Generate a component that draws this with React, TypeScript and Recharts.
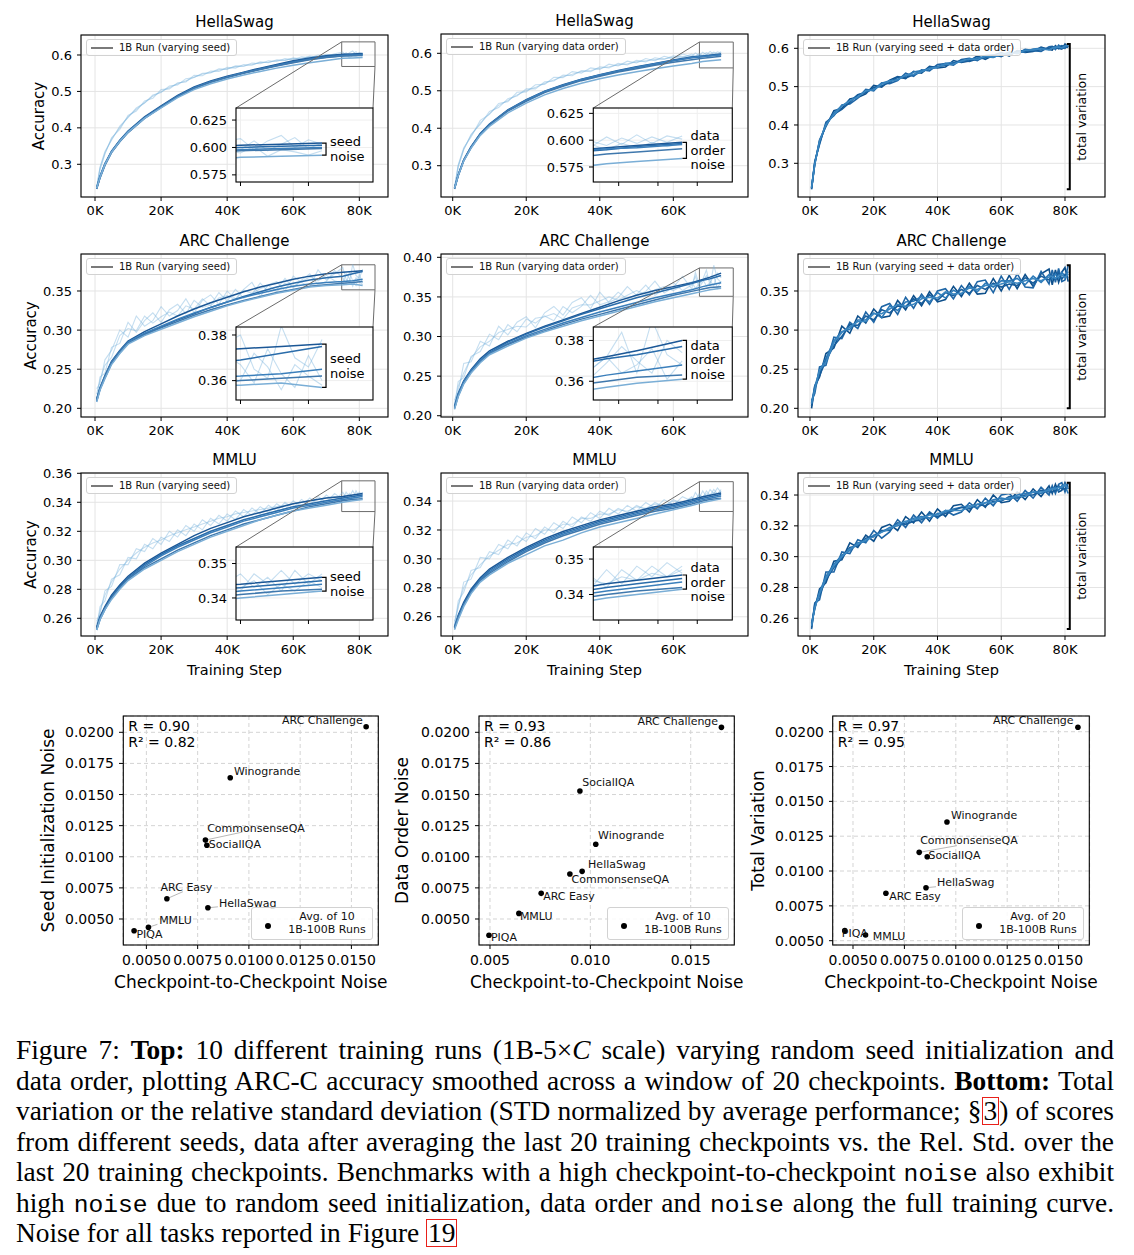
import React from "react";
import {
  LineChart,
  Line,
  XAxis,
  YAxis,
  CartesianGrid,
  ReferenceArea,
  ScatterChart,
  Scatter,
} from "recharts";

// training steps, in thousands
const RAW_STEPS_81 = [0.5, 1.5, 3, 5, 7.5, 10, 12.5, 15, 17.5, 20, 22.5, 25, 27.5, 30, 32.5, 35, 37.5, 40, 42.5, 45, 47.5, 50, 52.5, 55, 57.5, 60, 62.5, 65, 67.5, 70, 72.5, 75, 76, 77, 78, 79, 80, 81];
const SMOOTH_STEPS_81 = [0.5, 1.5, 3, 5, 7.5, 10, 15, 20, 25, 30, 35, 40, 45, 50, 55, 60, 65, 70, 75, 78, 81];
const RAW_STEPS_73 = [0.5, 1.5, 3, 5, 7.5, 10, 12.5, 15, 17.5, 20, 22.5, 25, 27.5, 30, 32.5, 35, 37.5, 40, 42.5, 45, 47.5, 50, 52.5, 55, 57.5, 60, 62.5, 65, 66, 67, 68, 69, 70, 71, 72, 73];
const SMOOTH_STEPS_73 = [0.5, 1.5, 3, 5, 7.5, 10, 15, 20, 25, 30, 35, 40, 45, 50, 55, 60, 65, 68, 70, 73];
const X_TICKS_81 = [0, 20, 40, 60, 80];
const X_TICKS_73 = [0, 20, 40, 60];

// HellaSwag
const HS_SEED_RAW = [
  [.236, .292, .335, .366, .405, .428, .455, .468, .49, .497, .515, .518, .535, .538, .55, .551, .562, .561, .57, .569, .578, .576, .584, .582, .59, .587, .595, .592, .6, .597, .603, .608, .598, .606, .611, .6, .607, .603],
  [.233, .285, .328, .373, .396, .434, .446, .474, .481, .505, .507, .524, .526, .544, .543, .556, .555, .566, .564, .574, .572, .581, .579, .587, .585, .592, .589, .597, .594, .602, .599, .598, .606, .597, .603, .609, .599, .604],
  [.237, .289, .331, .369, .401, .43, .451, .469, .487, .499, .511, .521, .529, .539, .548, .552, .559, .562, .568, .57, .574, .579, .58, .585, .586, .59, .591, .595, .596, .6, .6, .595, .601, .592, .598, .596, .593, .597],
];
const HS_SEED_SMOOTH = [
  [.235, .266, .301, .336, .366, .391, .43, .46, .489, .512, .529, .542, .553, .564, .574, .584, .592, .598, .602, .603, .604],
  [.233, .263, .298, .333, .363, .388, .427, .457, .486, .509, .526, .539, .551, .562, .572, .582, .59, .596, .6, .601, .602],
  [.236, .267, .302, .335, .365, .39, .428, .458, .487, .51, .527, .54, .551, .561, .571, .58, .588, .594, .598, .599, .6],
  [.232, .262, .297, .332, .362, .387, .426, .456, .485, .508, .525, .538, .55, .56, .57, .579, .587, .593, .597, .598, .599],
  [.234, .264, .299, .333, .363, .388, .426, .455, .483, .505, .521, .534, .545, .555, .564, .572, .579, .585, .591, .592, .593],
];
const HS_ORDER_RAW = [
  [.242, .302, .348, .377, .421, .437, .466, .471, .496, .497, .516, .517, .536, .535, .551, .547, .561, .557, .571, .566, .579, .574, .586, .58, .592, .586, .598, .591, .601, .594, .603, .596, .605, .597, .604, .601],
  [.238, .296, .343, .384, .41, .445, .455, .479, .486, .505, .505, .524, .526, .542, .54, .554, .551, .564, .561, .573, .569, .581, .577, .588, .584, .593, .589, .598, .592, .599, .595, .602, .597, .603, .598, .604],
  [.24, .3, .344, .381, .414, .439, .461, .474, .489, .501, .509, .52, .529, .538, .544, .551, .554, .56, .564, .569, .572, .577, .58, .583, .585, .589, .591, .593, .59, .596, .591, .597, .593, .598, .594, .597],
];
const HS_ORDER_SMOOTH = [
  [.241, .276, .316, .351, .386, .411, .449, .476, .499, .516, .531, .543, .554, .564, .573, .582, .59, .593, .595, .598],
  [.239, .274, .314, .349, .384, .409, .447, .474, .497, .514, .529, .541, .552, .562, .571, .58, .588, .591, .594, .597],
  [.24, .275, .315, .35, .385, .41, .448, .475, .498, .515, .53, .542, .553, .563, .572, .581, .589, .592, .593, .596],
  [.238, .273, .313, .348, .383, .408, .446, .472, .495, .512, .527, .539, .55, .559, .568, .576, .583, .587, .589, .592],
  [.24, .274, .313, .347, .381, .405, .441, .467, .489, .506, .52, .532, .542, .551, .559, .566, .573, .578, .58, .583],
];
const HS_TOTAL = [
  [.235, .297, .361, .396, .437, .443, .468, .472, .481, .503, .499, .517, .526, .521, .54, .535, .553, .549, .551, .568, .563, .567, .58, .571, .582, .589, .58, .594, .589, .592, .603, .597, .595, .607, .6, .598, .611, .603],
  [.232, .305, .349, .407, .424, .452, .455, .47, .493, .489, .51, .508, .516, .535, .527, .544, .541, .558, .56, .556, .571, .574, .568, .581, .583, .578, .59, .586, .597, .594, .592, .604, .605, .597, .608, .601, .6, .609],
  [.238, .3, .357, .398, .432, .45, .462, .478, .486, .494, .509, .515, .52, .527, .538, .542, .546, .55, .561, .563, .565, .57, .575, .578, .576, .585, .588, .589, .591, .598, .6, .598, .602, .6, .605, .607, .602, .606],
  [.234, .302, .353, .402, .428, .441, .459, .479, .484, .498, .502, .511, .525, .523, .531, .538, .55, .553, .555, .561, .569, .566, .572, .575, .581, .581, .584, .592, .594, .593, .596, .6, .603, .604, .599, .606, .605, .602],
  [.236, .298, .358, .401, .427, .449, .463, .473, .489, .492, .506, .514, .518, .53, .532, .539, .548, .551, .558, .559, .567, .572, .571, .579, .577, .584, .587, .587, .595, .596, .599, .596, .601, .603, .603, .601, .606, .607],
];

// ARC Challenge
const ARC_SEED_RAW = [
  [.225, .232, .262, .274, .3, .291, .318, .305, .312, .33, .318, .325, .34, .322, .338, .345, .333, .35, .34, .352, .361, .343, .358, .362, .35, .369, .361, .355, .377, .364, .372, .38, .365, .361, .384, .37, .366, .378],
  [.21, .24, .245, .278, .283, .31, .297, .312, .322, .31, .326, .333, .321, .338, .329, .332, .348, .337, .352, .341, .346, .36, .349, .352, .366, .354, .364, .372, .358, .362, .376, .367, .359, .374, .363, .357, .371, .36],
  [.218, .236, .255, .265, .293, .302, .299, .318, .309, .317, .323, .318, .331, .327, .34, .331, .341, .344, .339, .351, .347, .353, .357, .349, .36, .356, .362, .368, .363, .37, .363, .36, .372, .366, .356, .367, .362, .358],
];
const ARC_SEED_SMOOTH = [
  [.212, .226, .242, .26, .274, .286, .298, .308, .318, .327, .335, .342, .349, .355, .36, .365, .369, .372, .374, .375, .376],
  [.209, .224, .239, .257, .271, .283, .295, .304, .313, .321, .329, .336, .343, .349, .355, .36, .364, .367, .369, .372, .375],
  [.211, .226, .241, .259, .273, .285, .296, .305, .314, .322, .329, .336, .342, .347, .352, .356, .359, .361, .362, .363, .365],
  [.21, .225, .24, .258, .272, .283, .294, .303, .311, .319, .326, .332, .338, .343, .348, .352, .356, .358, .36, .361, .362],
  [.208, .223, .238, .256, .27, .282, .293, .301, .309, .317, .324, .331, .337, .342, .347, .351, .355, .357, .358, .359, .357],
];
const ARC_ORDER_RAW = [
  [.22, .23, .266, .268, .294, .288, .313, .302, .318, .325, .311, .33, .338, .327, .343, .349, .335, .356, .343, .349, .363, .352, .357, .37, .355, .362, .376, .36, .381, .366, .372, .384, .364, .39, .373, .368],
  [.212, .243, .248, .275, .281, .303, .296, .315, .306, .322, .317, .326, .32, .338, .33, .338, .352, .34, .344, .356, .347, .353, .365, .352, .36, .368, .358, .365, .376, .362, .369, .377, .37, .364, .38, .374],
  [.216, .237, .254, .273, .287, .294, .305, .309, .313, .312, .323, .325, .329, .322, .336, .34, .34, .345, .35, .346, .352, .358, .353, .359, .363, .358, .364, .369, .361, .366, .372, .364, .368, .376, .361, .37],
];
const ARC_ORDER_SMOOTH = [
  [.212, .228, .244, .258, .272, .282, .294, .304, .313, .321, .329, .337, .345, .352, .358, .363, .368, .372, .375, .38],
  [.21, .226, .242, .256, .27, .28, .293, .303, .312, .32, .328, .335, .342, .349, .355, .361, .367, .371, .373, .377],
  [.211, .227, .243, .257, .27, .279, .291, .301, .309, .317, .324, .331, .337, .343, .349, .354, .359, .363, .365, .368],
  [.209, .225, .241, .255, .268, .278, .29, .299, .307, .315, .322, .328, .334, .34, .346, .352, .357, .36, .362, .363],
  [.208, .224, .24, .254, .267, .277, .288, .298, .306, .313, .32, .326, .332, .338, .344, .349, .354, .357, .359, .361],
];
const ARC_TOTAL = [
  [.2, .229, .24, .27, .277, .305, .296, .318, .309, .327, .316, .318, .338, .326, .344, .331, .349, .336, .339, .356, .343, .36, .346, .347, .366, .35, .37, .353, .371, .356, .372, .378, .358, .377, .361, .374, .38, .362],
  [.21, .219, .253, .255, .291, .289, .31, .302, .323, .31, .33, .334, .32, .342, .328, .346, .333, .35, .353, .34, .357, .345, .362, .364, .348, .369, .352, .372, .355, .354, .375, .359, .377, .361, .379, .362, .364, .383],
  [.207, .228, .247, .264, .286, .298, .301, .313, .313, .322, .316, .331, .325, .336, .337, .343, .336, .348, .341, .351, .346, .356, .349, .36, .355, .363, .363, .366, .358, .369, .361, .371, .365, .372, .366, .374, .369, .375],
  [.203, .226, .242, .261, .28, .292, .307, .306, .318, .313, .326, .322, .331, .33, .34, .334, .345, .338, .348, .344, .352, .347, .357, .352, .36, .355, .359, .357, .367, .36, .369, .364, .37, .365, .373, .365, .371, .367],
  [.206, .224, .249, .259, .284, .297, .304, .311, .311, .321, .321, .327, .333, .33, .333, .34, .342, .341, .349, .346, .347, .354, .352, .357, .358, .359, .362, .36, .363, .366, .363, .368, .369, .366, .37, .371, .367, .372],
];

// MMLU
const MMLU_SEED_RAW = [
  [.258, .263, .279, .282, .297, .297, .308, .306, .315, .311, .32, .316, .324, .32, .328, .324, .331, .327, .334, .33, .336, .332, .338, .334, .34, .336, .342, .338, .344, .34, .346, .342, .347, .344, .348, .344, .347, .345],
  [.253, .268, .272, .287, .29, .302, .301, .311, .308, .316, .313, .321, .317, .325, .321, .329, .325, .332, .328, .335, .331, .337, .333, .339, .335, .341, .337, .343, .339, .345, .341, .347, .343, .346, .342, .348, .344, .347],
  [.256, .265, .276, .285, .294, .3, .305, .309, .312, .314, .317, .319, .321, .323, .325, .327, .329, .33, .332, .333, .334, .335, .336, .337, .338, .339, .34, .341, .342, .343, .344, .343, .345, .341, .344, .342, .345, .343],
];
const MMLU_SEED_SMOOTH = [
  [.254, .261, .268, .276, .283, .289, .298, .305, .311, .317, .322, .326, .33, .333, .336, .339, .341, .343, .344, .345, .346],
  [.253, .26, .267, .275, .282, .288, .297, .304, .31, .315, .32, .324, .328, .331, .334, .337, .339, .341, .343, .344, .345],
  [.252, .259, .266, .274, .281, .287, .296, .303, .309, .314, .319, .323, .327, .33, .333, .336, .338, .34, .342, .343, .344],
  [.253, .26, .267, .274, .281, .287, .295, .301, .307, .312, .317, .321, .325, .328, .331, .334, .337, .339, .341, .342, .3425],
  [.252, .259, .266, .273, .28, .286, .294, .3, .306, .311, .316, .32, .324, .328, .331, .334, .336, .338, .34, .341, .342],
];
const MMLU_ORDER_RAW = [
  [.257, .266, .284, .286, .301, .3, .31, .307, .316, .312, .321, .317, .325, .321, .329, .325, .332, .328, .335, .331, .337, .333, .339, .335, .341, .337, .343, .34, .346, .342, .347, .343, .348, .345, .349, .346],
  [.253, .271, .277, .292, .294, .305, .303, .313, .309, .318, .314, .322, .318, .326, .322, .329, .326, .333, .33, .335, .332, .337, .334, .339, .336, .341, .338, .343, .34, .345, .342, .347, .344, .348, .345, .347],
  [.255, .268, .28, .289, .296, .302, .306, .31, .311, .315, .316, .32, .32, .324, .324, .328, .328, .331, .331, .334, .333, .336, .335, .338, .337, .34, .339, .342, .341, .344, .343, .345, .344, .346, .345, .348],
];
const MMLU_ORDER_SMOOTH = [
  [.253, .261, .27, .279, .287, .293, .301, .308, .314, .319, .323, .327, .33, .333, .336, .338, .341, .343, .344, .3455],
  [.252, .26, .269, .278, .286, .292, .3, .307, .313, .318, .322, .326, .329, .332, .335, .337, .34, .342, .343, .3445],
  [.253, .26, .268, .277, .285, .291, .299, .306, .312, .317, .321, .325, .328, .331, .334, .336, .339, .341, .342, .3435],
  [.252, .259, .268, .277, .285, .29, .298, .305, .311, .316, .32, .324, .327, .33, .333, .335, .338, .34, .341, .342],
  [.251, .258, .267, .276, .284, .289, .297, .303, .309, .313, .318, .322, .325, .328, .331, .334, .337, .339, .34, .3415],
];
const MMLU_TOTAL = [
  [.257, .266, .279, .283, .297, .298, .309, .306, .314, .31, .319, .321, .317, .326, .322, .329, .323, .331, .326, .333, .334, .329, .337, .332, .34, .335, .336, .342, .337, .344, .339, .346, .341, .347, .342, .343, .348, .344],
  [.253, .27, .272, .29, .29, .303, .302, .311, .309, .317, .312, .316, .324, .319, .327, .322, .329, .325, .33, .327, .329, .335, .331, .338, .333, .34, .341, .336, .343, .338, .345, .34, .346, .341, .347, .348, .342, .348],
  [.256, .267, .277, .287, .295, .301, .304, .309, .31, .314, .316, .319, .32, .322, .325, .326, .325, .328, .329, .331, .332, .333, .332, .335, .337, .338, .337, .34, .341, .342, .341, .344, .344, .345, .343, .346, .346, .341],
  [.254, .269, .275, .285, .293, .299, .306, .307, .312, .313, .317, .317, .322, .321, .323, .324, .328, .326, .328, .33, .332, .331, .334, .333, .336, .336, .339, .338, .34, .34, .343, .342, .342, .343, .346, .344, .344, .346],
  [.255, .267, .276, .286, .294, .3, .305, .308, .311, .313, .316, .318, .321, .323, .324, .325, .327, .327, .33, .33, .33, .332, .334, .335, .335, .337, .338, .339, .339, .342, .342, .343, .344, .344, .345, .345, .347, .344],
];

// bottom row: noise per benchmark
const BENCHMARKS = ["ARC Challenge", "Winogrande", "CommonsenseQA", "SocialIQA", "ARC Easy", "HellaSwag", "MMLU", "PIQA"];
const SEED_C2C = [0.01572, 0.00909, 0.00788, 0.00795, 0.006, 0.008, 0.0051, 0.0044];
const SEED_NOISE = [0.02045, 0.01635, 0.01134, 0.01092, 0.00663, 0.0059, 0.00433, 0.00406];
const ORDER_C2C = [0.01653, 0.01027, 0.00898, 0.00948, 0.00755, 0.00959, 0.00644, 0.00495];
const ORDER_NOISE = [0.0204, 0.011, 0.00861, 0.01528, 0.00706, 0.00883, 0.00545, 0.00369];
const TOTAL_C2C = [0.01594, 0.00957, 0.00822, 0.00861, 0.0066, 0.00855, 0.00561, 0.0046];
const TOTAL_VAR = [0.02032, 0.01352, 0.01134, 0.01103, 0.0084, 0.0088, 0.00541, 0.00572];

// label placement (px offset from point): dx, dy, anchor, leader-line end
type Lab = [number, number, string, number?, number?];
const SEED_LABELS: Lab[] = [[-3.3, -6, "end"], [3.7, -6.7, "start"], [1.7, -12, "start", 37, -8], [2, -1.3, "start"], [-6.3, -11.7, "start", 16, -7], [11, -4.3, "start", 10, -1], [10.7, -6.7, "start", 9, -3], [2.3, 4.3, "start"]];
const ORDER_LABELS: Lab[] = [[-3.3, -6.3, "end"], [2.3, -8.7, "start"], [1.7, 5.3, "start"], [2.3, -8.3, "start"], [2, 2.7, "start"], [6, -7.3, "start"], [1, 3, "start"], [2, 2.3, "start"]];
const TOTAL_LABELS: Lab[] = [[-4.3, -6.7, "end"], [4, -6.7, "start"], [1, -12.3, "start", 37.7, -6.7], [1.3, -0.7, "start"], [3.3, 3.3, "start"], [11, -5.3, "start", 10, -1], [7.3, 1.7, "start"], [-3, 2.7, "start"]];

const FONT = '"DejaVu Sans", Verdana, sans-serif';
const PAD = 12;
const SMOOTH_COLORS = ["#1b5796", "#2a6caa", "#3b7fbb", "#3f78ad", "#7aaed6"];
const TOTAL_COLORS = ["#0d4f8b", "#1f66a6", "#2d7ab8", "#175d9c", "#3a86c0"];

type Box = { x: number; y: number; w: number; h: number };
type Runs = { steps: number[]; runs: number[][] };
type Inset = { box: Box; xd: number[]; yd: number[]; xTicks: number[]; yTicks: number[]; yDigits: number; note: string[] };
type Panel = {
  title: string; legend: string; box: Box; xd: number[]; yd: number[]; xTicks: number[]; yTicks: number[]; yDigits: number;
  raw?: Runs; smooth?: Runs; total?: Runs; inset?: Inset; yLabelX?: number; xLabel?: boolean;
};

const C2_INSET_X = [68.8, 71.4, 74];
const PANELS: Panel[] = [
  { title: "HellaSwag", legend: "1B Run (varying seed)", box: { x: 81, y: 35, w: 307, h: 162 }, xd: [-4.24, 88.68], yd: [0.2102, 0.6549], xTicks: X_TICKS_81, yTicks: [0.3, 0.4, 0.5, 0.6], yDigits: 1,
    raw: { steps: RAW_STEPS_81, runs: HS_SEED_RAW }, smooth: { steps: SMOOTH_STEPS_81, runs: HS_SEED_SMOOTH }, yLabelX: 39,
    inset: { box: { x: 236, y: 108, w: 137, h: 74 }, xd: [74.67, 84.75], yd: [0.5685, 0.636], xTicks: [75, 80], yTicks: [0.575, 0.6, 0.625], yDigits: 3, note: ["seed", "noise"] } },
  { title: "HellaSwag", legend: "1B Run (varying data order)", box: { x: 441, y: 34, w: 307, h: 163 }, xd: [-3.18, 80.31], yd: [0.2165, 0.6515], xTicks: X_TICKS_73, yTicks: [0.3, 0.4, 0.5, 0.6], yDigits: 1,
    raw: { steps: RAW_STEPS_73, runs: HS_ORDER_RAW }, smooth: { steps: SMOOTH_STEPS_73, runs: HS_ORDER_SMOOTH },
    inset: { box: { x: 593.3, y: 108, w: 139, h: 74 }, xd: [67.1, 76.3], yd: [0.561, 0.63], xTicks: C2_INSET_X, yTicks: [0.575, 0.6, 0.625], yDigits: 3, note: ["data", "order", "noise"] } },
  { title: "HellaSwag", legend: "1B Run (varying seed + data order)", box: { x: 798, y: 35, w: 307, h: 162 }, xd: [-3.76, 92.55], yd: [0.2121, 0.6347], xTicks: X_TICKS_81, yTicks: [0.3, 0.4, 0.5, 0.6], yDigits: 1,
    total: { steps: RAW_STEPS_81, runs: HS_TOTAL } },
  { title: "ARC Challenge", legend: "1B Run (varying seed)", box: { x: 81, y: 254, w: 307, h: 163 }, xd: [-4.24, 88.68], yd: [0.1889, 0.3973], xTicks: X_TICKS_81, yTicks: [0.2, 0.25, 0.3, 0.35], yDigits: 2,
    raw: { steps: RAW_STEPS_81, runs: ARC_SEED_RAW }, smooth: { steps: SMOOTH_STEPS_81, runs: ARC_SEED_SMOOTH }, yLabelX: 31,
    inset: { box: { x: 236, y: 327, w: 137, h: 73 }, xd: [74.67, 84.75], yd: [0.3515, 0.3835], xTicks: [75, 80], yTicks: [0.36, 0.38], yDigits: 2, note: ["seed", "noise"] } },
  { title: "ARC Challenge", legend: "1B Run (varying data order)", box: { x: 441, y: 254, w: 307, h: 163 }, xd: [-3.18, 80.31], yd: [0.1984, 0.4042], xTicks: X_TICKS_73, yTicks: [0.2, 0.25, 0.3, 0.35, 0.4], yDigits: 2,
    raw: { steps: RAW_STEPS_73, runs: ARC_ORDER_RAW }, smooth: { steps: SMOOTH_STEPS_73, runs: ARC_ORDER_SMOOTH },
    inset: { box: { x: 593.3, y: 327, w: 139, h: 73 }, xd: [67.1, 76.3], yd: [0.3508, 0.3866], xTicks: C2_INSET_X, yTicks: [0.36, 0.38], yDigits: 2, note: ["data", "order", "noise"] } },
  { title: "ARC Challenge", legend: "1B Run (varying seed + data order)", box: { x: 798, y: 254, w: 307, h: 163 }, xd: [-3.76, 92.55], yd: [0.1889, 0.3973], xTicks: X_TICKS_81, yTicks: [0.2, 0.25, 0.3, 0.35], yDigits: 2,
    total: { steps: RAW_STEPS_81, runs: ARC_TOTAL } },
  { title: "MMLU", legend: "1B Run (varying seed)", box: { x: 81, y: 473, w: 307, h: 163 }, xd: [-4.24, 88.68], yd: [0.2478, 0.3602], xTicks: X_TICKS_81, yTicks: [0.26, 0.28, 0.3, 0.32, 0.34, 0.36], yDigits: 2,
    raw: { steps: RAW_STEPS_81, runs: MMLU_SEED_RAW }, smooth: { steps: SMOOTH_STEPS_81, runs: MMLU_SEED_SMOOTH }, yLabelX: 31, xLabel: true,
    inset: { box: { x: 236, y: 547, w: 137, h: 73 }, xd: [74.67, 84.75], yd: [0.3336, 0.3548], xTicks: [75, 80], yTicks: [0.34, 0.35], yDigits: 2, note: ["seed", "noise"] } },
  { title: "MMLU", legend: "1B Run (varying data order)", box: { x: 441, y: 473, w: 307, h: 163 }, xd: [-3.18, 80.31], yd: [0.2467, 0.3594], xTicks: X_TICKS_73, yTicks: [0.26, 0.28, 0.3, 0.32, 0.34], yDigits: 2,
    raw: { steps: RAW_STEPS_73, runs: MMLU_ORDER_RAW }, smooth: { steps: SMOOTH_STEPS_73, runs: MMLU_ORDER_SMOOTH }, xLabel: true,
    inset: { box: { x: 593.3, y: 547, w: 139, h: 73 }, xd: [67.1, 76.3], yd: [0.3328, 0.3534], xTicks: C2_INSET_X, yTicks: [0.34, 0.35], yDigits: 2, note: ["data", "order", "noise"] } },
  { title: "MMLU", legend: "1B Run (varying seed + data order)", box: { x: 798, y: 473, w: 307, h: 163 }, xd: [-3.76, 92.55], yd: [0.2485, 0.3543], xTicks: X_TICKS_81, yTicks: [0.26, 0.28, 0.3, 0.32, 0.34], yDigits: 2,
    total: { steps: RAW_STEPS_81, runs: MMLU_TOTAL }, xLabel: true },
];

type SPanel = {
  box: Box; xd: number[]; yd: number[]; xTicks: number[]; yTicks: number[]; xDigits: number;
  xs: number[]; ys: number[]; labels: Lab[]; yLabel: string; yLabelX: number; r: string; r2: string; runs: string;
};
const SCATTERS: SPanel[] = [
  { box: { x: 123.3, y: 716, w: 255, h: 229 }, xd: [0.003859, 0.016298], yd: [0.002911, 0.02131], xTicks: [0.005, 0.0075, 0.01, 0.0125, 0.015], yTicks: [0.005, 0.0075, 0.01, 0.0125, 0.015, 0.0175, 0.02], xDigits: 4,
    xs: SEED_C2C, ys: SEED_NOISE, labels: SEED_LABELS, yLabel: "Seed Initialization Noise", yLabelX: 47.5, r: "R = 0.90", r2: "R² = 0.82", runs: "Avg. of 10" },
  { box: { x: 479, y: 716, w: 255.3, h: 229 }, xd: [0.004452, 0.017172], yd: [0.002911, 0.02131], xTicks: [0.005, 0.01, 0.015], yTicks: [0.005, 0.0075, 0.01, 0.0125, 0.015, 0.0175, 0.02], xDigits: 3,
    xs: ORDER_C2C, ys: ORDER_NOISE, labels: ORDER_LABELS, yLabel: "Data Order Noise", yLabelX: 401.5, r: "R = 0.93", r2: "R² = 0.86", runs: "Avg. of 10" },
  { box: { x: 832.7, y: 716, w: 256.6, h: 229 }, xd: [0.004027, 0.016508], yd: [0.004691, 0.021127], xTicks: [0.005, 0.0075, 0.01, 0.0125, 0.015], yTicks: [0.005, 0.0075, 0.01, 0.0125, 0.015, 0.0175, 0.02], xDigits: 4,
    xs: TOTAL_C2C, ys: TOTAL_VAR, labels: TOTAL_LABELS, yLabel: "Total Variation", yLabelX: 758, r: "R = 0.97", r2: "R² = 0.95", runs: "Avg. of 20" },
];

const rows = (steps: number[], vals: number[]) =>
  steps.map((x, i) => ({ x, y: vals[i] })).filter((d) => d.y !== undefined);

const mx = (b: Box, d: number[], v: number) => b.x + ((v - d[0]) / (d[1] - d[0])) * b.w;
const my = (b: Box, d: number[], v: number) => b.y + ((d[1] - v) / (d[1] - d[0])) * b.h;

function runLines(p: Panel) {
  const out: React.ReactNode[] = [];
  if (p.raw)
    p.raw.runs.forEach((r, i) =>
      out.push(<Line key={"r" + i} data={rows(p.raw!.steps, r)} dataKey="y" type="linear" dot={false} stroke="#7fb6dd" strokeOpacity={0.45} strokeWidth={1.1} isAnimationActive={false} />)
    );
  if (p.smooth)
    p.smooth.runs.forEach((r, i) =>
      out.push(<Line key={"s" + i} data={rows(p.smooth!.steps, r)} dataKey="y" type="linear" dot={false} stroke={SMOOTH_COLORS[i]} strokeWidth={1.5} isAnimationActive={false} />)
    );
  if (p.total)
    p.total.runs.forEach((r, i) =>
      out.push(<Line key={"t" + i} data={rows(p.total!.steps, r)} dataKey="y" type="linear" dot={false} stroke={TOTAL_COLORS[i]} strokeWidth={1.6} isAnimationActive={false} />)
    );
  return out;
}

const tickStyle = { fill: "#000", fontSize: 13 };

function MainChart({ p }: { p: Panel }) {
  const YW = 46, XH = 24;
  return (
    <div style={{ position: "absolute", left: p.box.x - YW, top: p.box.y - PAD }}>
      <LineChart width={YW + p.box.w + PAD} height={PAD + p.box.h + XH} margin={{ top: PAD, right: PAD, bottom: 0, left: 0 }}>
        <CartesianGrid stroke="#e4e4e4" />
        <XAxis type="number" dataKey="x" domain={p.xd} ticks={p.xTicks} allowDataOverflow interval={0} height={XH} axisLine={false} tickLine={{ stroke: "#000" }} tickSize={4} tickMargin={5} tick={tickStyle} tickFormatter={(v: number) => `${v}K`} />
        <YAxis type="number" domain={p.yd} ticks={p.yTicks} allowDataOverflow interval={0} width={YW} axisLine={false} tickLine={{ stroke: "#000" }} tickSize={4} tickMargin={5} tick={tickStyle} tickFormatter={(v: number) => v.toFixed(p.yDigits)} />
        {runLines(p)}
        {p.inset && (
          <ReferenceArea x1={p.inset.xd[0]} x2={p.inset.xd[1]} y1={p.inset.yd[0]} y2={p.inset.yd[1]} fill="none" fillOpacity={0} stroke="#6b6b6b" strokeWidth={1} ifOverflow="visible" />
        )}
      </LineChart>
    </div>
  );
}

function InsetChart({ p }: { p: Panel }) {
  const ins = p.inset!;
  const YW = 48, XH = 8;
  return (
    <>
      <div style={{ position: "absolute", left: ins.box.x, top: ins.box.y, width: ins.box.w, height: ins.box.h, background: "#fff" }} />
      <div style={{ position: "absolute", left: ins.box.x - YW, top: ins.box.y - PAD }}>
        <LineChart width={YW + ins.box.w} height={PAD + ins.box.h + XH} margin={{ top: PAD, right: 0, bottom: 0, left: 0 }}>
          <CartesianGrid stroke="#efefef" />
          <XAxis type="number" dataKey="x" domain={ins.xd} ticks={ins.xTicks} allowDataOverflow interval={0} height={XH} axisLine={false} tickLine={{ stroke: "#000" }} tickSize={4} tick={tickStyle} tickFormatter={() => ""} />
          <YAxis type="number" domain={ins.yd} ticks={ins.yTicks} allowDataOverflow interval={0} width={YW} axisLine={false} tickLine={{ stroke: "#000" }} tickSize={4} tickMargin={5} tick={tickStyle} tickFormatter={(v: number) => v.toFixed(ins.yDigits)} />
          {runLines(p)}
        </LineChart>
      </div>
    </>
  );
}

function Legend({ p }: { p: Panel }) {
  return (
    <div style={{ position: "absolute", left: p.box.x + 5, top: p.box.y + 4, height: 17, padding: "0 6px 0 4px", border: "1px solid #d2d2d2", borderRadius: 3, background: "rgba(255,255,255,0.85)", display: "flex", alignItems: "center", gap: 6, fontSize: 10, fontFamily: FONT, color: "#111", boxSizing: "border-box", whiteSpace: "nowrap" }}>
      <span style={{ display: "inline-block", width: 22, height: 2, background: "#7a7a7a" }} />
      {p.legend}
    </div>
  );
}

function makeShape(labels: Lab[]) {
  return (props: any) => {
    const { cx, cy, payload } = props;
    const o = labels[payload.i];
    return (
      <g>
        {o[3] !== undefined && <line x1={cx} y1={cy} x2={cx + o[3]} y2={cy + (o[4] as number)} stroke="#9a9a9a" strokeWidth={0.7} />}
        <circle cx={cx} cy={cy} r={2.8} fill="#000" />
        <text x={cx + o[0]} y={cy + o[1]} textAnchor={o[2] as any} dominantBaseline="central" fontSize={11} fill="#111" fontFamily={FONT}>
          {payload.name}
        </text>
      </g>
    );
  };
}

function ScatterPanel({ s }: { s: SPanel }) {
  const YW = 60, XH = 28;
  const pts = s.xs.map((x, i) => ({ x, y: s.ys[i], name: BENCHMARKS[i], i }));
  const sTick = { fill: "#000", fontSize: 14 };
  return (
    <>
      <div style={{ position: "absolute", left: s.box.x - YW, top: s.box.y - PAD }}>
        <ScatterChart width={YW + s.box.w + PAD} height={PAD + s.box.h + XH} margin={{ top: PAD, right: PAD, bottom: 0, left: 0 }}>
          <CartesianGrid stroke="#d4d4d4" strokeDasharray="4 3" />
          <XAxis type="number" dataKey="x" domain={s.xd} ticks={s.xTicks} allowDataOverflow interval={0} height={XH} axisLine={false} tickLine={{ stroke: "#000" }} tickSize={4} tickMargin={6} tick={sTick} tickFormatter={(v: number) => v.toFixed(s.xDigits)} />
          <YAxis type="number" dataKey="y" domain={s.yd} ticks={s.yTicks} allowDataOverflow interval={0} width={YW} axisLine={false} tickLine={{ stroke: "#000" }} tickSize={4} tickMargin={5} tick={sTick} tickFormatter={(v: number) => v.toFixed(4)} />
          <Scatter data={pts} shape={makeShape(s.labels)} isAnimationActive={false} />
        </ScatterChart>
      </div>
      <div style={{ position: "absolute", left: s.box.x + 5, top: s.box.y + 2, fontSize: 14, lineHeight: "16px", fontFamily: FONT, color: "#000" }}>
        {s.r}
        <br />
        {s.r2}
      </div>
      <div style={{ position: "absolute", left: s.box.x + s.box.w - 5 - 122, top: s.box.y + s.box.h - 5 - 33, width: 122, height: 33, border: "1px solid #d2d2d2", borderRadius: 3, background: "rgba(255,255,255,0.85)", boxSizing: "border-box", fontFamily: FONT, fontSize: 11, color: "#111" }}>
        <span style={{ position: "absolute", left: 13, top: 15, width: 6, height: 6, borderRadius: 3, background: "#000" }} />
        <div style={{ position: "absolute", left: 36, top: 2, lineHeight: "13px", textAlign: "center" }}>
          {s.runs}
          <br />
          1B-100B Runs
        </div>
      </div>
    </>
  );
}

function Overlay() {
  const els: React.ReactNode[] = [];
  PANELS.forEach((p, k) => {
    const b = p.box;
    els.push(<rect key={"b" + k} x={b.x} y={b.y} width={b.w} height={b.h} fill="none" stroke="#000" strokeWidth={1.1} />);
    els.push(<text key={"t" + k} x={b.x + b.w / 2} y={b.y - 13.5} textAnchor="middle" dominantBaseline="central" fontSize={15}>{p.title}</text>);
    if (p.yLabelX !== undefined)
      els.push(<text key={"yl" + k} transform={`translate(${p.yLabelX},${b.y + b.h / 2}) rotate(-90)`} textAnchor="middle" dominantBaseline="central" fontSize={15}>Accuracy</text>);
    if (p.xLabel)
      els.push(<text key={"xl" + k} x={b.x + b.w / 2} y={670} textAnchor="middle" dominantBaseline="central" fontSize={14.5}>Training Step</text>);
    if (p.inset) {
      const ins = p.inset;
      const ib = ins.box;
      const rl = mx(b, p.xd, ins.xd[0]), rr = mx(b, p.xd, ins.xd[1]);
      const rt = my(b, p.yd, ins.yd[1]), rb = my(b, p.yd, ins.yd[0]);
      els.push(<line key={"c1" + k} x1={rl} y1={rt} x2={ib.x} y2={ib.y} stroke="#6b6b6b" strokeWidth={1} />);
      els.push(<line key={"c2" + k} x1={rr} y1={rb} x2={ib.x + ib.w} y2={ib.y} stroke="#6b6b6b" strokeWidth={1} />);
      els.push(<rect key={"ib" + k} x={ib.x} y={ib.y} width={ib.w} height={ib.h} fill="none" stroke="#000" strokeWidth={1.1} />);
      const sm = p.smooth!;
      const ends = sm.runs.map((r) => r[r.length - 1]);
      const bx = mx(ib, ins.xd, sm.steps[sm.steps.length - 1]) + 4;
      const top = my(ib, ins.yd, Math.max(...ends));
      const bot = my(ib, ins.yd, Math.min(...ends));
      els.push(<path key={"br" + k} d={`M${bx - 4},${top} H${bx} V${bot} H${bx - 4}`} fill="none" stroke="#000" strokeWidth={1.2} />);
      const mid = (top + bot) / 2;
      ins.note.forEach((t, j) =>
        els.push(<text key={`n${k}-${j}`} x={bx + 4} y={mid + (j - (ins.note.length - 1) / 2) * 14.5} dominantBaseline="central" fontSize={13}>{t}</text>)
      );
    }
    if (p.total) {
      const all = p.total.runs.flat();
      const bx = mx(b, p.xd, 81.5);
      const top = my(b, p.yd, Math.max(...all));
      const bot = my(b, p.yd, Math.min(...all));
      els.push(<path key={"tv" + k} d={`M${bx - 3},${top} H${bx} V${bot} H${bx - 3}`} fill="none" stroke="#000" strokeWidth={2} />);
      els.push(<text key={"tvt" + k} transform={`translate(${bx + 12},${(top + bot) / 2}) rotate(-90)`} textAnchor="middle" dominantBaseline="central" fontSize={12.5}>total variation</text>);
    }
  });
  SCATTERS.forEach((s, k) => {
    const b = s.box;
    els.push(<rect key={"sb" + k} x={b.x} y={b.y} width={b.w} height={b.h} fill="none" stroke="#000" strokeWidth={1.1} />);
    els.push(<text key={"sx" + k} x={b.x + b.w / 2} y={981.7} textAnchor="middle" dominantBaseline="central" fontSize={17}>Checkpoint-to-Checkpoint Noise</text>);
    els.push(<text key={"sy" + k} transform={`translate(${s.yLabelX},${b.y + b.h / 2}) rotate(-90)`} textAnchor="middle" dominantBaseline="central" fontSize={17}>{s.yLabel}</text>);
  });
  return (
    <svg width={1134} height={1010} style={{ position: "absolute", left: 0, top: 0, pointerEvents: "none", fontFamily: FONT }} fill="#000">
      {els}
    </svg>
  );
}

const linkBox: React.CSSProperties = { border: "1.6px solid #e8201a", padding: "0 1px", display: "inline-block", lineHeight: "26px" };
const mono: React.CSSProperties = { fontFamily: '"Liberation Mono", monospace', fontSize: "0.9em" };
const CAPTION: React.ReactNode[] = [
  <>Figure 7: <b>Top:</b> 10 different training runs (1B-5×<i>C</i> scale) varying random seed initialization and</>,
  <>data order, plotting ARC-C accuracy smoothed across a window of 20 checkpoints. <b>Bottom:</b> Total</>,
  <>variation or the relative standard deviation (STD normalized by average performance; §<span style={linkBox}>3</span>) of scores</>,
  <>from different seeds, data after averaging the last 20 training checkpoints vs. the Rel. Std. over the</>,
  <>last 20 training checkpoints. Benchmarks with a high checkpoint-to-checkpoint <span style={mono}>noise</span> also exhibit</>,
  <>high <span style={mono}>noise</span> due to random seed initialization, data order and <span style={mono}>noise</span> along the full training curve.</>,
  <>Noise for all tasks reported in Figure <span style={linkBox}>19</span></>,
];

export default function App() {
  return (
    <div style={{ position: "absolute", left: 0, top: 0, width: 1134, height: 1255, background: "#fff", fontFamily: FONT, overflow: "hidden" }}>
      {PANELS.map((p, i) => <MainChart key={"m" + i} p={p} />)}
      {PANELS.map((p, i) => (p.inset ? <InsetChart key={"i" + i} p={p} /> : null))}
      {PANELS.map((p, i) => <Legend key={"l" + i} p={p} />)}
      {SCATTERS.map((s, i) => <ScatterPanel key={"s" + i} s={s} />)}
      <Overlay />
      {CAPTION.map((c, i) => (
        <div key={"c" + i} style={{ position: "absolute", left: 16, top: 1035 + i * 30.5, width: 1098, height: 30.5, lineHeight: "30.5px", fontFamily: '"Liberation Serif", "Times New Roman", serif', fontSize: 27.4, color: "#000", textAlign: "justify", textAlignLast: i < CAPTION.length - 1 ? "justify" : "left", whiteSpace: "nowrap" }}>
          {c}
        </div>
      ))}
    </div>
  );
}
